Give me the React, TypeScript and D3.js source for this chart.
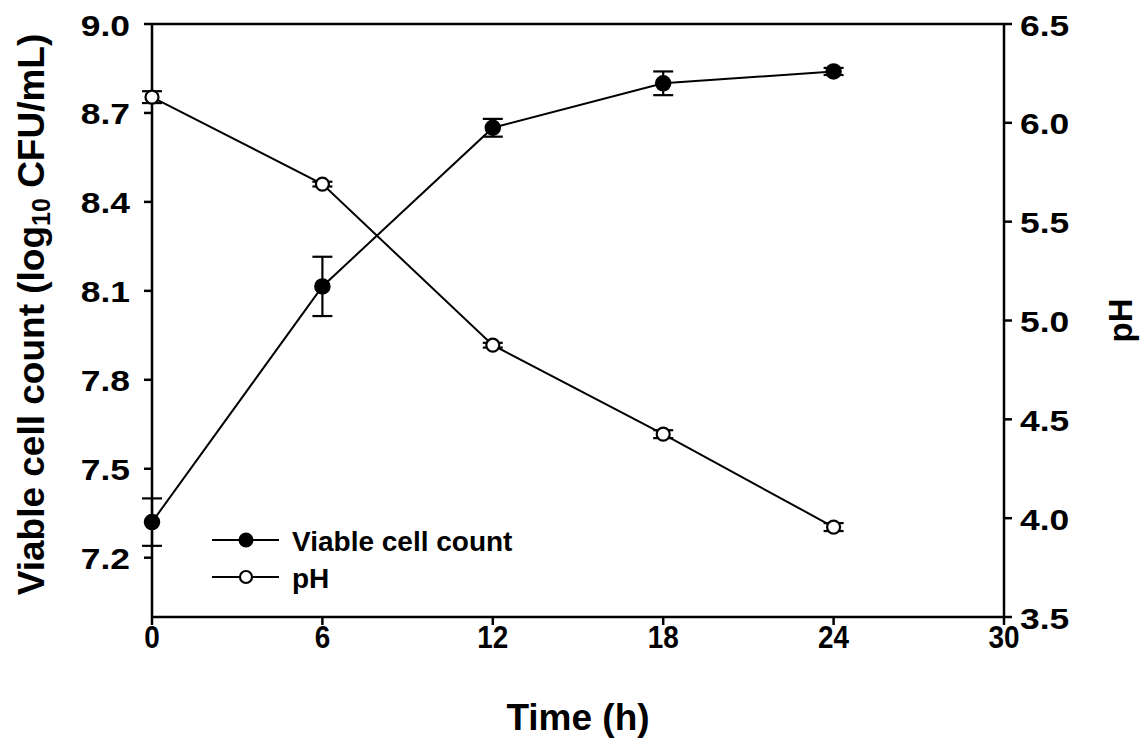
import React from 'react';
import * as d3 from 'd3';

// time points (h)
const hours = [0, 6, 12, 18, 24];
// viable cell count, log10 CFU/mL
const viable = [7.32, 8.115, 8.65, 8.8, 8.84];
const viableErr = [0.08, 0.1, 0.03, 0.04, 0.012];
// pH
const ph = [6.13, 5.69, 4.875, 4.425, 3.955];
const phErr = [0.03, 0.012, 0.012, 0.02, 0.02];

const xTicks = [0, 6, 12, 18, 24, 30];
const leftTicks = [7.2, 7.5, 7.8, 8.1, 8.4, 8.7, 9.0];
const rightTicks = [3.5, 4.0, 4.5, 5.0, 5.5, 6.0, 6.5];

const W = 1140;
const H = 742;
const margin = { top: 24, right: 136, bottom: 125, left: 152 };
const FONT = '"Liberation Sans", Arial, sans-serif';

const App = () => {
  const x = d3.scaleLinear().domain([0, 30]).range([margin.left, W - margin.right]);
  const yL = d3.scaleLinear().domain([7.0, 9.0]).range([H - margin.bottom, margin.top]);
  const yR = d3.scaleLinear().domain([3.5, 6.5]).range([H - margin.bottom, margin.top]);

  const x0 = x(0);
  const x1 = x(30);
  const yTop = margin.top;
  const yBot = H - margin.bottom;

  const viableLine = d3.line<number>().x((_, i) => x(hours[i])).y((d) => yL(d))(viable) || '';
  const phLine = d3.line<number>().x((_, i) => x(hours[i])).y((d) => yR(d))(ph) || '';

  const cap = 10;
  const tickLen = 8;
  const stroke = '#000';

  const errBar = (cx: number, lo: number, hi: number, key: string) => (
    <g key={key} stroke={stroke} strokeWidth={2.2}>
      <line x1={cx} x2={cx} y1={lo} y2={hi} />
      <line x1={cx - cap} x2={cx + cap} y1={lo} y2={lo} />
      <line x1={cx - cap} x2={cx + cap} y1={hi} y2={hi} />
    </g>
  );

  return (
    <svg width={W} height={H} style={{ position: 'absolute', left: 0, top: 0, background: '#fff' }}>
      <rect width={W} height={H} fill="#fff" />
      {/* frame */}
      <g stroke={stroke} strokeWidth={2.5} fill="none">
        <line x1={x0} x2={x1} y1={yTop} y2={yTop} />
        <line x1={x0} x2={x1} y1={yBot} y2={yBot} />
        <line x1={x0} x2={x0} y1={yTop} y2={yBot} />
        <line x1={x1} x2={x1} y1={yTop} y2={yBot} />
      </g>

      {/* x axis */}
      {xTicks.map((t) => (
        <g key={'x' + t}>
          <line x1={x(t)} x2={x(t)} y1={yBot} y2={yBot + tickLen} stroke={stroke} strokeWidth={2.5} />
          <text transform={`translate(${x(t)}, ${yBot + 20}) scale(0.9, 1)`} textAnchor="middle" dominantBaseline="central"
            fontFamily={FONT} fontWeight="bold" fontSize={31}>{t}</text>
        </g>
      ))}

      {/* left axis */}
      {leftTicks.map((t) => (
        <g key={'l' + t}>
          <line x1={x0 - tickLen} x2={x0} y1={yL(t)} y2={yL(t)} stroke={stroke} strokeWidth={2.5} />
          <text transform={`translate(${x0 - 22}, ${yL(t) + 1}) scale(1.18, 1)`} textAnchor="end" dominantBaseline="central"
            fontFamily={FONT} fontWeight="bold" fontSize={30}>{t.toFixed(1)}</text>
        </g>
      ))}

      {/* right axis */}
      {rightTicks.map((t) => (
        <g key={'r' + t}>
          <line x1={x1} x2={x1 + tickLen} y1={yR(t)} y2={yR(t)} stroke={stroke} strokeWidth={2.5} />
          <text transform={`translate(${x1 + 16}, ${yR(t) + 1}) scale(1.18, 1)`} textAnchor="start" dominantBaseline="central"
            fontFamily={FONT} fontWeight="bold" fontSize={30}>{t.toFixed(1)}</text>
        </g>
      ))}

      {/* axis titles */}
      <text transform={`translate(31, ${(yTop + yBot) / 2 - 6}) rotate(-90)`} textAnchor="middle"
        dominantBaseline="central" fontFamily={FONT} fontWeight="bold" fontSize={37}>
        Viable cell count (log<tspan fontSize={25} dy={10}>10</tspan><tspan dy={-10}> CFU/mL)</tspan>
      </text>
      <text x={(x0 + x1) / 2} y={717} textAnchor="middle" dominantBaseline="central"
        fontFamily={FONT} fontWeight="bold" fontSize={37}>Time (h)</text>
      <text transform={`translate(1120, ${(yTop + yBot) / 2}) rotate(-90)`} textAnchor="middle"
        dominantBaseline="central" fontFamily={FONT} fontWeight="bold" fontSize={33}>pH</text>

      {/* lines */}
      <path d={viableLine} fill="none" stroke={stroke} strokeWidth={2} />
      <path d={phLine} fill="none" stroke={stroke} strokeWidth={2} />

      {/* error bars */}
      {hours.map((h, i) => errBar(x(h), yL(viable[i] - viableErr[i]), yL(viable[i] + viableErr[i]), 've' + i))}
      {hours.map((h, i) => errBar(x(h), yR(ph[i] - phErr[i]), yR(ph[i] + phErr[i]), 'pe' + i))}

      {/* markers */}
      {hours.map((h, i) => (
        <circle key={'vm' + i} cx={x(h)} cy={yL(viable[i])} r={7.5} fill="#000" stroke={stroke} strokeWidth={1.5} />
      ))}
      {hours.map((h, i) => (
        <circle key={'pm' + i} cx={x(h)} cy={yR(ph[i])} r={6.5} fill="#fff" stroke={stroke} strokeWidth={2.2} />
      ))}

      {/* legend */}
      <g>
        <line x1={212} x2={279} y1={540} y2={540} stroke={stroke} strokeWidth={2.2} />
        <circle cx={246} cy={540} r={7.5} fill="#000" />
        <text x={292} y={541} dominantBaseline="central" fontFamily={FONT} fontWeight="bold" fontSize={28}>
          Viable cell count
        </text>
        <line x1={212} x2={279} y1={577} y2={577} stroke={stroke} strokeWidth={2.2} />
        <circle cx={246} cy={577} r={6} fill="#fff" stroke={stroke} strokeWidth={2.2} />
        <text x={292} y={578} dominantBaseline="central" fontFamily={FONT} fontWeight="bold" fontSize={28}>
          pH
        </text>
      </g>
    </svg>
  );
};

export default App;
